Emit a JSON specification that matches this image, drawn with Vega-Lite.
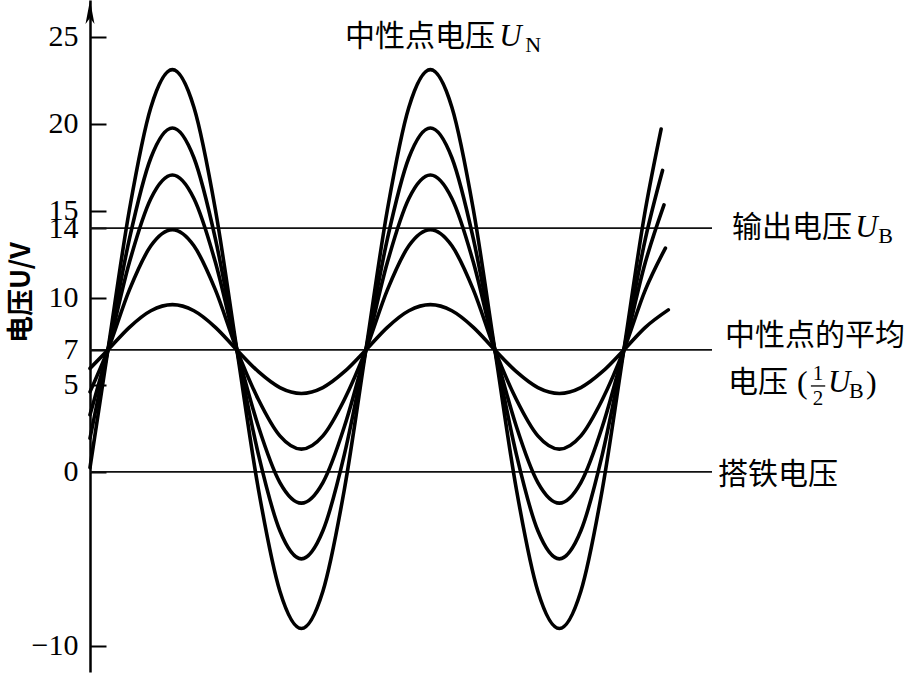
{
  "$schema": "https://vega.github.io/schema/vega-lite/v6.json",
  "autosize": {"type": "none"},
  "width": 622,
  "height": 672,
  "padding": {"left": 90, "top": 0, "right": 198, "bottom": 8},
  "background": "white",
  "config": {"view": {"stroke": null}},
  "encoding": {
    "x": {"field": "x", "type": "quantitative", "scale": {"domain": [-25, 843], "nice": false, "zero": false}, "axis": null},
    "y": {
      "field": "v", "type": "quantitative",
      "scale": {"domain": [-11.5, 27.1], "nice": false, "zero": false},
      "axis": {
        "values": [-10, 0, 5, 7, 10, 14, 15, 20, 25],
        "title": "电压U/V",
        "grid": false,
        "domainColor": "black", "domainWidth": 2.5,
        "tickColor": "black", "tickWidth": 2, "tickSize": -16,
        "labelPadding": 28, "labelFont": "Liberation Serif", "labelFontSize": 30, "labelColor": "black",
        "labelOverlap": false, "labelBound": false, "labelFlush": false,
        "titleFont": "Noto Sans CJK SC", "titleFontSize": 27, "titleColor": "black", "titleFontWeight": "bold",
        "titleX": -69, "titleY": 292, "titleAngle": -90, "titleAlign": "center", "titleBaseline": "middle"
      }
    }
  },
  "layer": [
    {
      "data": {"values": [
        {"x": -25, "x2": 843, "v": 14},
        {"x": -25, "x2": 843, "v": 7},
        {"x": -25, "x2": 843, "v": 0}
      ]},
      "mark": {"type": "rule", "color": "#111", "strokeWidth": 1.8},
      "encoding": {"x2": {"field": "x2"}}
    },
    {
      "data": {"values": [
        {"c": 1, "x": -25, "v": 0.24}, {"c": 1, "x": 0, "v": 7}, {"c": 1, "x": 30, "v": 15.05}, {"c": 1, "x": 60, "v": 20.94}, {"c": 1, "x": 90, "v": 23.1}, {"c": 1, "x": 120, "v": 20.94}, {"c": 1, "x": 150, "v": 15.05}, {"c": 1, "x": 180, "v": 7}, {"c": 1, "x": 210, "v": -1}, {"c": 1, "x": 240, "v": -6.86}, {"c": 1, "x": 270, "v": -9}, {"c": 1, "x": 300, "v": -6.86}, {"c": 1, "x": 330, "v": -1}, {"c": 1, "x": 360, "v": 7}, {"c": 1, "x": 390, "v": 15.05}, {"c": 1, "x": 420, "v": 20.94}, {"c": 1, "x": 450, "v": 23.1}, {"c": 1, "x": 480, "v": 20.94}, {"c": 1, "x": 510, "v": 15.05}, {"c": 1, "x": 540, "v": 7}, {"c": 1, "x": 570, "v": -1}, {"c": 1, "x": 600, "v": -6.86}, {"c": 1, "x": 630, "v": -9}, {"c": 1, "x": 660, "v": -6.86}, {"c": 1, "x": 690, "v": -1}, {"c": 1, "x": 720, "v": 7}, {"c": 1, "x": 750, "v": 15.05}, {"c": 1, "x": 772, "v": 19.69},
        {"c": 2, "x": -25, "v": 1.93}, {"c": 2, "x": 0, "v": 7}, {"c": 2, "x": 30, "v": 13.38}, {"c": 2, "x": 60, "v": 18.04}, {"c": 2, "x": 90, "v": 19.75}, {"c": 2, "x": 120, "v": 18.04}, {"c": 2, "x": 150, "v": 13.38}, {"c": 2, "x": 180, "v": 7}, {"c": 2, "x": 210, "v": 1}, {"c": 2, "x": 240, "v": -3.39}, {"c": 2, "x": 270, "v": -5}, {"c": 2, "x": 300, "v": -3.39}, {"c": 2, "x": 330, "v": 1}, {"c": 2, "x": 360, "v": 7}, {"c": 2, "x": 390, "v": 13.38}, {"c": 2, "x": 420, "v": 18.04}, {"c": 2, "x": 450, "v": 19.75}, {"c": 2, "x": 480, "v": 18.04}, {"c": 2, "x": 510, "v": 13.38}, {"c": 2, "x": 540, "v": 7}, {"c": 2, "x": 570, "v": 1}, {"c": 2, "x": 600, "v": -3.39}, {"c": 2, "x": 630, "v": -5}, {"c": 2, "x": 660, "v": -3.39}, {"c": 2, "x": 690, "v": 1}, {"c": 2, "x": 720, "v": 7}, {"c": 2, "x": 750, "v": 13.38}, {"c": 2, "x": 774, "v": 17.31},
        {"c": 3, "x": -25, "v": 3.28}, {"c": 3, "x": 0, "v": 7}, {"c": 3, "x": 30, "v": 12.03}, {"c": 3, "x": 60, "v": 15.7}, {"c": 3, "x": 90, "v": 17.05}, {"c": 3, "x": 120, "v": 15.7}, {"c": 3, "x": 150, "v": 12.03}, {"c": 3, "x": 180, "v": 7}, {"c": 3, "x": 210, "v": 2.6}, {"c": 3, "x": 240, "v": -0.62}, {"c": 3, "x": 270, "v": -1.8}, {"c": 3, "x": 300, "v": -0.62}, {"c": 3, "x": 330, "v": 2.6}, {"c": 3, "x": 360, "v": 7}, {"c": 3, "x": 390, "v": 12.03}, {"c": 3, "x": 420, "v": 15.7}, {"c": 3, "x": 450, "v": 17.05}, {"c": 3, "x": 480, "v": 15.7}, {"c": 3, "x": 510, "v": 12.03}, {"c": 3, "x": 540, "v": 7}, {"c": 3, "x": 570, "v": 2.6}, {"c": 3, "x": 600, "v": -0.62}, {"c": 3, "x": 630, "v": -1.8}, {"c": 3, "x": 660, "v": -0.62}, {"c": 3, "x": 690, "v": 2.6}, {"c": 3, "x": 720, "v": 7}, {"c": 3, "x": 750, "v": 12.03}, {"c": 3, "x": 776, "v": 15.33},
        {"c": 4, "x": -25, "v": 4.59}, {"c": 4, "x": 0, "v": 7}, {"c": 4, "x": 30, "v": 10.45}, {"c": 4, "x": 60, "v": 12.98}, {"c": 4, "x": 90, "v": 13.9}, {"c": 4, "x": 120, "v": 12.98}, {"c": 4, "x": 150, "v": 10.45}, {"c": 4, "x": 180, "v": 7}, {"c": 4, "x": 210, "v": 4.15}, {"c": 4, "x": 240, "v": 2.06}, {"c": 4, "x": 270, "v": 1.3}, {"c": 4, "x": 300, "v": 2.06}, {"c": 4, "x": 330, "v": 4.15}, {"c": 4, "x": 360, "v": 7}, {"c": 4, "x": 390, "v": 10.45}, {"c": 4, "x": 420, "v": 12.98}, {"c": 4, "x": 450, "v": 13.9}, {"c": 4, "x": 480, "v": 12.98}, {"c": 4, "x": 510, "v": 10.45}, {"c": 4, "x": 540, "v": 7}, {"c": 4, "x": 570, "v": 4.15}, {"c": 4, "x": 600, "v": 2.06}, {"c": 4, "x": 630, "v": 1.3}, {"c": 4, "x": 660, "v": 2.06}, {"c": 4, "x": 690, "v": 4.15}, {"c": 4, "x": 720, "v": 7}, {"c": 4, "x": 750, "v": 10.45}, {"c": 4, "x": 778, "v": 12.85},
        {"c": 5, "x": -25, "v": 5.94}, {"c": 5, "x": 0, "v": 7}, {"c": 5, "x": 30, "v": 8.3}, {"c": 5, "x": 60, "v": 9.25}, {"c": 5, "x": 90, "v": 9.6}, {"c": 5, "x": 120, "v": 9.25}, {"c": 5, "x": 150, "v": 8.3}, {"c": 5, "x": 180, "v": 7}, {"c": 5, "x": 210, "v": 5.75}, {"c": 5, "x": 240, "v": 4.84}, {"c": 5, "x": 270, "v": 4.5}, {"c": 5, "x": 300, "v": 4.84}, {"c": 5, "x": 330, "v": 5.75}, {"c": 5, "x": 360, "v": 7}, {"c": 5, "x": 390, "v": 8.3}, {"c": 5, "x": 420, "v": 9.25}, {"c": 5, "x": 450, "v": 9.6}, {"c": 5, "x": 480, "v": 9.25}, {"c": 5, "x": 510, "v": 8.3}, {"c": 5, "x": 540, "v": 7}, {"c": 5, "x": 570, "v": 5.75}, {"c": 5, "x": 600, "v": 4.84}, {"c": 5, "x": 630, "v": 4.5}, {"c": 5, "x": 660, "v": 4.84}, {"c": 5, "x": 690, "v": 5.75}, {"c": 5, "x": 720, "v": 7}, {"c": 5, "x": 750, "v": 8.3}, {"c": 5, "x": 782, "v": 9.3}
      ]},
      "mark": {"type": "line", "color": "black", "strokeWidth": 3.6, "interpolate": "monotone", "strokeCap": "round"},
      "encoding": {"detail": {"field": "c", "type": "nominal"}}
    },
    {
      "data": {"values": [{"x": -25, "v": 26.4}]},
      "mark": {"type": "point", "shape": "M0,-1L0.38,1L0,0.5L-0.38,1Z", "filled": true, "color": "black", "opacity": 1, "size": 560, "strokeWidth": 0}
    },
    {
      "data": {"values": [
        {"t": "输出电压", "x": 870.9, "v": 14},
        {"t": "中性点电压", "x": 330.8, "v": 25},
        {"t": "中性点的平均", "x": 861.1, "v": 7.8},
        {"t": "电压", "x": 865.3, "v": 5.1},
        {"t": "搭铁电压", "x": 851.4, "v": -0.18}
      ]},
      "mark": {"type": "text", "align": "left", "baseline": "middle", "font": "Noto Sans CJK SC", "fontSize": 30, "color": "black"},
      "encoding": {"text": {"field": "t"}}
    },
    {
      "data": {"values": [
        {"t": "U", "x": 1043, "v": 14},
        {"t": "U", "x": 546, "v": 25},
        {"t": "U", "x": 1004.9, "v": 5.1}
      ]},
      "mark": {"type": "text", "align": "left", "baseline": "middle", "font": "Liberation Serif", "fontStyle": "italic", "fontSize": 31, "color": "black"},
      "encoding": {"text": {"field": "t"}}
    },
    {
      "data": {"values": [
        {"t": "B", "x": 1075, "v": 14},
        {"t": "N", "x": 582.5, "v": 25},
        {"t": "B", "x": 1034.2, "v": 5.1}
      ]},
      "mark": {"type": "text", "align": "left", "baseline": "middle", "font": "Liberation Serif", "fontSize": 22, "dy": 8, "color": "black"},
      "encoding": {"text": {"field": "t"}}
    },
    {
      "data": {"values": [
        {"t": "(", "x": 961.6, "v": 5.1},
        {"t": ")", "x": 1057.9, "v": 5.1}
      ]},
      "mark": {"type": "text", "align": "left", "baseline": "middle", "font": "Liberation Serif", "fontSize": 32, "color": "black"},
      "encoding": {"text": {"field": "t"}}
    },
    {
      "data": {"values": [
        {"t": "1", "x": 990.9, "v": 5.62},
        {"t": "2", "x": 990.9, "v": 4.19}
      ]},
      "mark": {"type": "text", "align": "center", "baseline": "middle", "font": "Liberation Serif", "fontSize": 21, "color": "black"},
      "encoding": {"text": {"field": "t"}}
    },
    {
      "data": {"values": [{"x": 981, "x2": 1001, "v": 4.93}]},
      "mark": {"type": "rule", "color": "black", "strokeWidth": 1.3},
      "encoding": {"x2": {"field": "x2"}}
    }
  ]
}
